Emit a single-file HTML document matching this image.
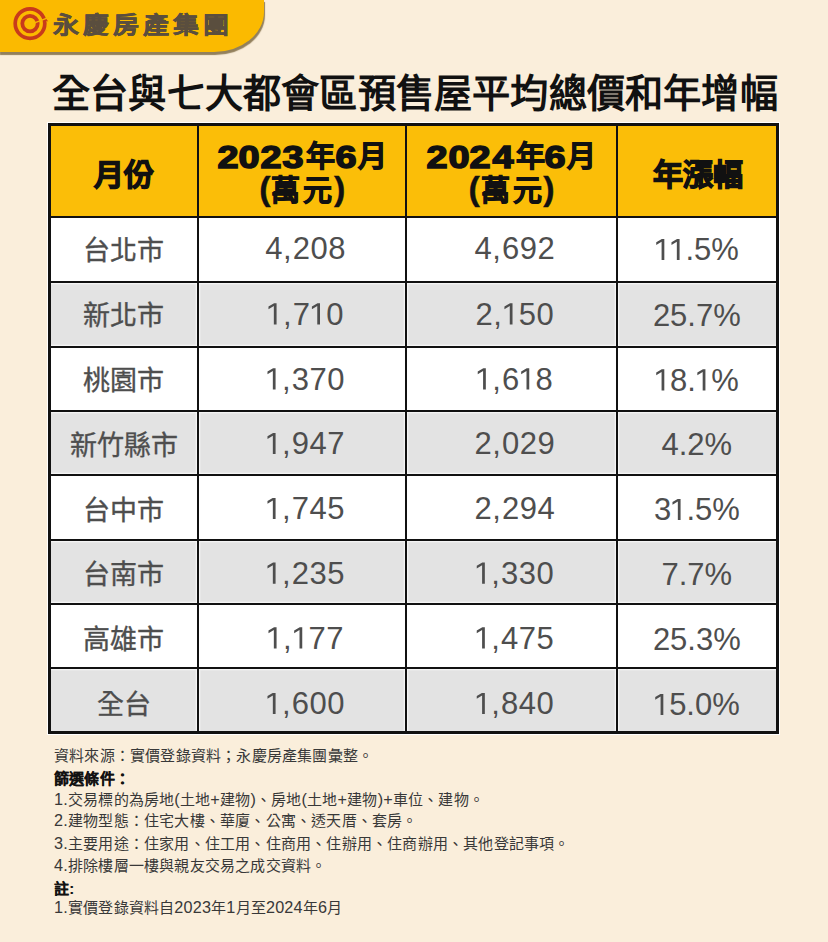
<!DOCTYPE html>
<html lang="zh-TW">
<head>
<meta charset="utf-8">
<style>
html,body{margin:0;padding:0;}
body{width:828px;height:942px;overflow:hidden;background:#faeedb;position:relative;font-family:"Liberation Sans",sans-serif;}
.abs{position:absolute;}
#banner{left:0;top:0;width:264px;height:52px;background:#fbba00;border-bottom-right-radius:50px 40px;box-shadow:0.5px 2.5px 1px rgba(120,100,60,0.8);}
#logotext{left:53px;top:12px;font-size:26px;font-weight:900;color:#5a4e3e;letter-spacing:4.1px;line-height:30px;white-space:nowrap;-webkit-text-stroke:0.6px #5a4e3e;transform:scaleY(0.88);transform-origin:0 0;}
#title{left:52px;top:71px;font-size:38.2px;letter-spacing:0.2px;font-weight:700;color:#111;line-height:46px;white-space:nowrap;}
#table{left:48px;top:123px;width:731px;height:611px;}
.cell{position:absolute;display:flex;align-items:center;justify-content:center;text-align:center;}
.hline{position:absolute;left:0;width:731px;height:2px;background:#111;}
.vline{position:absolute;top:0;width:2px;height:611px;background:#111;}
.hd{background:#fbbe08;color:#111;font-weight:700;}
.w{background:#fff;}
.g{background:#e3e3e3;box-shadow:inset 0 0 0 1.5px #fcfcfc,inset 0 0 0 2.5px #ededed;}
.txt{color:#4e4e4e;font-size:31px;letter-spacing:0.5px;position:relative;}
.pct{letter-spacing:0;}
.cm{padding:0 0.8px 0 0;}
.cn{color:#4e4e4e;font-size:27px;position:relative;-webkit-text-stroke:0.35px #4e4e4e;}
#outer{position:absolute;left:0;top:0;width:725px;height:605px;border:3px solid #111;box-shadow:0 0 0 1px #fff;}
.note{position:absolute;left:54px;font-size:15px;letter-spacing:0.2px;color:#383838;white-space:nowrap;line-height:18px;}
.note b{color:#111;-webkit-text-stroke:0.15px #111;position:relative;top:0.5px;}
.note .n{font-size:16.2px;}
.h0{font-size:30px;line-height:32px;-webkit-text-stroke:1.3px #111;position:relative;top:5px;left:0.5px;}
.gl{position:absolute;width:50px;text-align:center;color:#111;white-space:nowrap;}
.gl.d{top:14px;font-size:32px;line-height:40px;font-weight:700;-webkit-text-stroke:1.6px #111;transform:scaleX(1.18);}
.gl.k{top:14px;font-size:29px;line-height:40px;font-weight:700;-webkit-text-stroke:1px #111;}
.gl.k2{top:48px;font-size:29px;line-height:40px;font-weight:700;-webkit-text-stroke:0.8px #111;}
.gl.p{top:44.5px;font-size:34px;line-height:40px;font-weight:700;-webkit-text-stroke:0.4px #111;}
.one{display:inline-block;width:0.492em;height:0.688em;background:currentColor;vertical-align:baseline;margin-right:0.5px;clip-path:polygon(44% 100%,62% 100%,62% 0%,45.5% 0%,8.9% 15.5%,8.9% 28.5%,44% 13%);}
.pct .one{margin-right:0;}

</style>
</head>
<body>
<div id="banner" class="abs"></div>
<svg class="abs" style="left:0;top:0" width="60" height="52" viewBox="0 0 60 52">
  <circle cx="30" cy="23.6" r="14.8" fill="none" stroke="#c83b1b" stroke-width="3.7"/>
  <circle cx="30" cy="23.6" r="7.7" fill="none" stroke="#c83b1b" stroke-width="3.8"/>
  <path d="M44.2 20.2 L48.2 21.6 L45.6 17.8 Z" fill="#c83b1b"/>
  <path d="M34.5 22.8 L49 17.4" stroke="#f7b600" stroke-width="1.4"/>
</svg>

<div id="logotext" class="abs">永慶房產集團</div>
<div id="title" class="abs">全台與七大都會區預售屋平均總價和年增幅</div>
<div id="table" class="abs">
<div class="cell hd" style="left:0.0px;top:0.0px;width:150.2px;height:93.8px;"><span class="h0">月份</span></div>
<div class="cell hd" style="left:150.2px;top:0.0px;width:207.8px;height:93.8px;"></div>
<div class="cell hd" style="left:358.0px;top:0.0px;width:210.7px;height:93.8px;"></div>
<div class="cell hd" style="left:568.7px;top:0.0px;width:162.3px;height:93.8px;"><span class="h0">年漲幅</span></div>
<div class="cell w" style="left:0.0px;top:93.8px;width:150.2px;height:64.9px;"><span class="cn" style="left:0.5px;top:-0.40px">台北市</span></div>
<div class="cell w" style="left:150.2px;top:93.8px;width:207.8px;height:64.9px;"><span class="txt" style="left:3.5px;top:0.00px">4<span class=cm>,</span>208</span></div>
<div class="cell w" style="left:358.0px;top:93.8px;width:210.7px;height:64.9px;"><span class="txt" style="left:3.5px;top:0.00px">4<span class=cm>,</span>692</span></div>
<div class="cell w" style="left:568.7px;top:93.8px;width:162.3px;height:64.9px;"><span class="txt pct" style="left:-1px;top:1.00px"><span class=one></span><span class=one></span>.5%</span></div>
<div class="cell g" style="left:0.0px;top:158.7px;width:150.2px;height:64.9px;"><span class="cn" style="left:0.5px;top:-0.15px">新北市</span></div>
<div class="cell g" style="left:150.2px;top:158.7px;width:207.8px;height:64.9px;"><span class="txt" style="left:3.5px;top:0.40px"><span class=one></span><span class=cm>,</span>7<span class=one></span>0</span></div>
<div class="cell g" style="left:358.0px;top:158.7px;width:210.7px;height:64.9px;"><span class="txt" style="left:3.5px;top:0.40px">2<span class=cm>,</span><span class=one></span>50</span></div>
<div class="cell g" style="left:568.7px;top:158.7px;width:162.3px;height:64.9px;"><span class="txt pct" style="left:-1px;top:1.40px">25.7%</span></div>
<div class="cell w" style="left:0.0px;top:223.6px;width:150.2px;height:64.3px;"><span class="cn" style="left:0.5px;top:0.10px">桃園市</span></div>
<div class="cell w" style="left:150.2px;top:223.6px;width:207.8px;height:64.3px;"><span class="txt" style="left:3.5px;top:0.80px"><span class=one></span><span class=cm>,</span>370</span></div>
<div class="cell w" style="left:358.0px;top:223.6px;width:210.7px;height:64.3px;"><span class="txt" style="left:3.5px;top:0.80px"><span class=one></span><span class=cm>,</span>6<span class=one></span>8</span></div>
<div class="cell w" style="left:568.7px;top:223.6px;width:162.3px;height:64.3px;"><span class="txt pct" style="left:-1px;top:1.80px"><span class=one></span>8.<span class=one></span>%</span></div>
<div class="cell g" style="left:0.0px;top:287.9px;width:150.2px;height:64.4px;"><span class="cn" style="left:0.5px;top:0.35px">新竹縣市</span></div>
<div class="cell g" style="left:150.2px;top:287.9px;width:207.8px;height:64.4px;"><span class="txt" style="left:3.5px;top:1.20px"><span class=one></span><span class=cm>,</span>947</span></div>
<div class="cell g" style="left:358.0px;top:287.9px;width:210.7px;height:64.4px;"><span class="txt" style="left:3.5px;top:1.20px">2<span class=cm>,</span>029</span></div>
<div class="cell g" style="left:568.7px;top:287.9px;width:162.3px;height:64.4px;"><span class="txt pct" style="left:-1px;top:2.20px">4.2%</span></div>
<div class="cell w" style="left:0.0px;top:352.3px;width:150.2px;height:64.4px;"><span class="cn" style="left:0.5px;top:0.60px">台中市</span></div>
<div class="cell w" style="left:150.2px;top:352.3px;width:207.8px;height:64.4px;"><span class="txt" style="left:3.5px;top:1.60px"><span class=one></span><span class=cm>,</span>745</span></div>
<div class="cell w" style="left:358.0px;top:352.3px;width:210.7px;height:64.4px;"><span class="txt" style="left:3.5px;top:1.60px">2<span class=cm>,</span>294</span></div>
<div class="cell w" style="left:568.7px;top:352.3px;width:162.3px;height:64.4px;"><span class="txt pct" style="left:-1px;top:2.60px">3<span class=one></span>.5%</span></div>
<div class="cell g" style="left:0.0px;top:416.7px;width:150.2px;height:64.2px;"><span class="cn" style="left:0.5px;top:0.85px">台南市</span></div>
<div class="cell g" style="left:150.2px;top:416.7px;width:207.8px;height:64.2px;"><span class="txt" style="left:3.5px;top:2.00px"><span class=one></span><span class=cm>,</span>235</span></div>
<div class="cell g" style="left:358.0px;top:416.7px;width:210.7px;height:64.2px;"><span class="txt" style="left:3.5px;top:2.00px"><span class=one></span><span class=cm>,</span>330</span></div>
<div class="cell g" style="left:568.7px;top:416.7px;width:162.3px;height:64.2px;"><span class="txt pct" style="left:-1px;top:3.00px">7.7%</span></div>
<div class="cell w" style="left:0.0px;top:480.9px;width:150.2px;height:64.5px;"><span class="cn" style="left:0.5px;top:1.10px">高雄市</span></div>
<div class="cell w" style="left:150.2px;top:480.9px;width:207.8px;height:64.5px;"><span class="txt" style="left:3.5px;top:2.40px"><span class=one></span><span class=cm>,</span><span class=one></span>77</span></div>
<div class="cell w" style="left:358.0px;top:480.9px;width:210.7px;height:64.5px;"><span class="txt" style="left:3.5px;top:2.40px"><span class=one></span><span class=cm>,</span>475</span></div>
<div class="cell w" style="left:568.7px;top:480.9px;width:162.3px;height:64.5px;"><span class="txt pct" style="left:-1px;top:3.40px">25.3%</span></div>
<div class="cell g" style="left:0.0px;top:545.4px;width:150.2px;height:65.6px;"><span class="cn" style="left:0.5px;top:1.35px">全台</span></div>
<div class="cell g" style="left:150.2px;top:545.4px;width:207.8px;height:65.6px;"><span class="txt" style="left:3.5px;top:2.80px"><span class=one></span><span class=cm>,</span>600</span></div>
<div class="cell g" style="left:358.0px;top:545.4px;width:210.7px;height:65.6px;"><span class="txt" style="left:3.5px;top:2.80px"><span class=one></span><span class=cm>,</span>840</span></div>
<div class="cell g" style="left:568.7px;top:545.4px;width:162.3px;height:65.6px;"><span class="txt pct" style="left:-1px;top:3.80px"><span class=one></span>5.0%</span></div>
<div class="hline" style="top:92.8px"></div>
<div class="hline" style="top:157.7px"></div>
<div class="hline" style="top:222.6px"></div>
<div class="hline" style="top:286.9px"></div>
<div class="hline" style="top:351.3px"></div>
<div class="hline" style="top:415.7px"></div>
<div class="hline" style="top:479.9px"></div>
<div class="hline" style="top:544.4px"></div>
<div class="vline" style="left:149.2px"></div>
<div class="vline" style="left:357.0px"></div>
<div class="vline" style="left:567.7px"></div>
<div id="outer"></div>
<div class="gl d" style="left:154.8px">2</div>
<div class="gl d" style="left:176.3px">0</div>
<div class="gl d" style="left:198.0px">2</div>
<div class="gl d" style="left:220.4px">3</div>
<div class="gl k" style="left:247.9px">年</div>
<div class="gl d" style="left:272.8px">6</div>
<div class="gl k" style="left:299.3px">月</div>
<div class="gl p" style="left:192.0px">(</div>
<div class="gl k2" style="left:212.8px">萬</div>
<div class="gl k2" style="left:244.8px">元</div>
<div class="gl p" style="left:266.6px">)</div>
<div class="gl d" style="left:364.1px">2</div>
<div class="gl d" style="left:385.5px">0</div>
<div class="gl d" style="left:407.2px">2</div>
<div class="gl d" style="left:429.6px">4</div>
<div class="gl k" style="left:457.1px">年</div>
<div class="gl d" style="left:482.0px">6</div>
<div class="gl k" style="left:508.6px">月</div>
<div class="gl p" style="left:401.2px">(</div>
<div class="gl k2" style="left:422.0px">萬</div>
<div class="gl k2" style="left:454.1px">元</div>
<div class="gl p" style="left:475.8px">)</div>
</div>
<div class="note" style="top:746.5px">資料來源：實價登錄資料；永慶房產集團彙整。</div>
<div class="note" style="top:769px"><b>篩選條件：</b></div>
<div class="note" style="top:789.5px"><span class="n">1.</span>交易標的為房地<span class="n">(</span>土地<span class="n">+</span>建物<span class="n">)</span>、房地<span class="n">(</span>土地<span class="n">+</span>建物<span class="n">)+</span>車位、建物。</div>
<div class="note" style="top:810.5px"><span class="n">2.</span>建物型態：住宅大樓、華廈、公寓、透天厝、套房。</div>
<div class="note" style="top:834px"><span class="n">3.</span>主要用途：住家用、住工用、住商用、住辦用、住商辦用、其他登記事項。</div>
<div class="note" style="top:855.5px"><span class="n">4.</span>排除樓層一樓與親友交易之成交資料。</div>
<div class="note" style="top:879px"><b>註:</b></div>
<div class="note" style="top:898px"><span class="n">1.</span>實價登錄資料自<span class="n">2023</span>年<span class="n">1</span>月至<span class="n">2024</span>年<span class="n">6</span>月</div>
</body>
</html>
